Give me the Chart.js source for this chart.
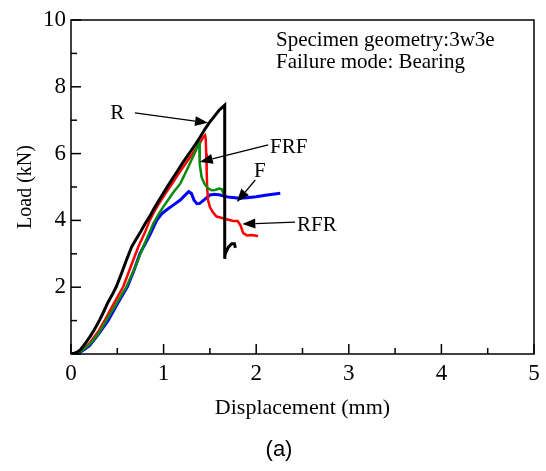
<!DOCTYPE html>
<html>
<head>
<meta charset="utf-8">
<script src="https://cdn.jsdelivr.net/npm/chart.js@4.4.1/dist/chart.umd.min.js"></script>
<style>
  html, body { margin: 0; padding: 0; background: #fff; }
  #wrap { width: 546px; height: 471px; position: relative; }
</style>
</head>
<body>
<div id="wrap"><canvas id="loadChart" width="546" height="471"></canvas></div>
<script>
// Load-displacement curves (x: mm, y: kN)
const rX = [0, 0.05, 0.1, 0.15, 0.2, 0.25, 0.31, 0.35, 0.4, 0.45, 0.49, 0.55, 0.6, 0.655, 0.7, 0.75, 0.8, 0.85, 0.9, 0.95, 1.0, 1.05, 1.1, 1.15, 1.2, 1.25, 1.3, 1.35, 1.4, 1.45, 1.5, 1.55, 1.6, 1.66, 1.66, 1.665, 1.7, 1.735, 1.765, 1.775];
const rY = [0, 0.03, 0.12, 0.3, 0.5, 0.72, 1.02, 1.25, 1.55, 1.8, 2.02, 2.45, 2.82, 3.21, 3.42, 3.65, 3.9, 4.12, 4.37, 4.6, 4.83, 5.05, 5.27, 5.48, 5.7, 5.9, 6.1, 6.3, 6.52, 6.75, 6.95, 7.12, 7.3, 7.45, 2.85, 3.0, 3.2, 3.3, 3.3, 3.18];

const frfX = [0, 0.1, 0.2, 0.3, 0.385, 0.5, 0.6, 0.7, 0.78, 0.85, 0.89, 0.95, 1.0, 1.05, 1.1, 1.18, 1.25, 1.3, 1.35, 1.375, 1.385, 1.39, 1.41, 1.44, 1.48, 1.52, 1.555, 1.6, 1.63, 1.65];
const frfY = [0, 0.07, 0.28, 0.62, 1.02, 1.55, 2.02, 2.65, 3.21, 3.65, 3.91, 4.2, 4.42, 4.62, 4.82, 5.1, 5.5, 5.8, 6.1, 6.3, 6.33, 5.7, 5.3, 5.1, 4.96, 4.9, 4.91, 4.95, 4.93, 4.76];

const rfrX = [0, 0.1, 0.2, 0.3, 0.367, 0.45, 0.565, 0.65, 0.727, 0.8, 0.85, 0.9, 0.95, 1.0, 1.05, 1.1, 1.15, 1.2, 1.25, 1.3, 1.35, 1.4, 1.43, 1.447, 1.455, 1.46, 1.465, 1.47, 1.48, 1.5, 1.53, 1.57, 1.62, 1.7, 1.75, 1.8, 1.83, 1.86, 1.9, 1.95, 2.02];
const rfrY = [0, 0.08, 0.32, 0.7, 1.02, 1.45, 2.02, 2.65, 3.21, 3.65, 4.0, 4.27, 4.5, 4.72, 4.93, 5.13, 5.35, 5.55, 5.75, 5.95, 6.15, 6.35, 6.5, 6.55, 6.45, 6.0, 5.5, 5.0, 4.6, 4.4, 4.25, 4.12, 4.08, 4.02, 3.98, 3.98, 3.85, 3.62, 3.55, 3.56, 3.53];

const fX = [0, 0.1, 0.2, 0.3, 0.4, 0.5, 0.61, 0.68, 0.745, 0.85, 0.925, 0.98, 1.03, 1.1, 1.18, 1.23, 1.27, 1.3, 1.33, 1.36, 1.39, 1.44, 1.5, 1.55, 1.61, 1.66, 1.72, 1.77, 1.825, 1.9, 2.0, 2.1, 2.18, 2.26];
const fY = [0, 0.05, 0.25, 0.6, 1.0, 1.5, 2.02, 2.5, 3.01, 3.55, 4.0, 4.2, 4.31, 4.45, 4.61, 4.75, 4.86, 4.81, 4.6, 4.5, 4.51, 4.62, 4.76, 4.78, 4.76, 4.72, 4.69, 4.68, 4.66, 4.68, 4.71, 4.75, 4.78, 4.81];

const xTicks = [0, 1, 2, 3, 4, 5];
const yTicks = [2, 4, 6, 8, 10];

// arrow labels: text, label pos, arrow tail, arrow tip (data units)
const labels = ['R', 'FRF', 'F', 'RFR'];
const labelPos = [[0.50, 7.19], [2.15, 6.17], [2.04, 5.45], [2.44, 3.86]];
const labelAlign = ['center', 'left', 'center', 'left'];
const arrowFrom = [[0.69, 7.22], [2.13, 6.26], [1.99, 5.21], [2.42, 3.95]];
const arrowTo = [[1.48, 6.92], [1.39, 5.75], [1.79, 4.55], [1.85, 3.89]];

function pts(xs, ys) {
  return xs.map((x, i) => ({ x: x, y: ys[i] }));
}

const SERIF = '"Liberation Serif", "Times New Roman", serif';

const decor = {
  id: 'decor',
  afterDraw(chart) {
    const ctx = chart.ctx;
    const a = chart.chartArea;
    const xs = chart.scales.x, ys = chart.scales.y;
    ctx.save();
    // frame
    ctx.strokeStyle = '#000';
    ctx.lineWidth = 1.5;
    ctx.strokeRect(a.left, a.top, a.right - a.left, a.bottom - a.top);
    // inward ticks, majors on labelled values
    for (let i = 0; i <= 10; i++) {
      const px = xs.getPixelForValue(i / 2);
      const len = i % 2 === 0 ? 10 : 6;
      ctx.beginPath();
      ctx.moveTo(px, a.bottom);
      ctx.lineTo(px, a.bottom - len);
      ctx.stroke();
    }
    for (let v = 0; v <= 10; v += 1) {
      const py = ys.getPixelForValue(v);
      const len = v % 2 === 0 ? 10 : 6;
      ctx.beginPath();
      ctx.moveTo(a.left, py);
      ctx.lineTo(a.left + len, py);
      ctx.stroke();
    }
    // text box
    ctx.fillStyle = '#000';
    ctx.font = '21px ' + SERIF;
    ctx.textBaseline = 'middle';
    ctx.textAlign = 'left';
    ctx.fillText('Specimen geometry:3w3e', 276, 40);
    ctx.fillText('Failure mode: Bearing', 276, 62);
    // axis titles
    ctx.font = '22px ' + SERIF;
    ctx.textAlign = 'center';
    ctx.fillText('Displacement (mm)', (a.left + a.right) / 2, 408);
    ctx.save();
    ctx.font = '20px ' + SERIF;
    ctx.translate(26, (a.top + a.bottom) / 2);
    ctx.rotate(-Math.PI / 2);
    ctx.fillText('Load (kN)', 0, 0);
    ctx.restore();
    ctx.font = '22px "Liberation Sans", Arial, sans-serif';
    ctx.fillText('(a)', 279, 450);
    // arrows with labels
    ctx.font = '21px ' + SERIF;
    labels.forEach((t, i) => {
      ctx.textAlign = labelAlign[i];
      ctx.fillText(t, xs.getPixelForValue(labelPos[i][0]), ys.getPixelForValue(labelPos[i][1]));
      const x1 = xs.getPixelForValue(arrowFrom[i][0]), y1 = ys.getPixelForValue(arrowFrom[i][1]);
      const x2 = xs.getPixelForValue(arrowTo[i][0]), y2 = ys.getPixelForValue(arrowTo[i][1]);
      const ang = Math.atan2(y2 - y1, x2 - x1);
      const hl = 13, hw = 5;
      const bx = x2 - hl * Math.cos(ang), by = y2 - hl * Math.sin(ang);
      ctx.lineWidth = 1.3;
      ctx.beginPath();
      ctx.moveTo(x1, y1);
      ctx.lineTo(bx, by);
      ctx.stroke();
      ctx.beginPath();
      ctx.moveTo(x2, y2);
      ctx.lineTo(bx + hw * Math.sin(ang), by - hw * Math.cos(ang));
      ctx.lineTo(bx - hw * Math.sin(ang), by + hw * Math.cos(ang));
      ctx.closePath();
      ctx.fill();
    });
    ctx.restore();
  }
};

const ctx = document.getElementById('loadChart').getContext('2d');
const loadChart = new Chart(ctx, {
  type: 'scatter',
  data: {
    datasets: [
      { label: 'R', data: pts(rX, rY), borderColor: '#000000', borderWidth: 3 },
      { label: 'FRF', data: pts(frfX, frfY), borderColor: '#0a8a0a', borderWidth: 2.5 },
      { label: 'RFR', data: pts(rfrX, rfrY), borderColor: '#ff0000', borderWidth: 2.5 },
      { label: 'F', data: pts(fX, fY), borderColor: '#0000ff', borderWidth: 3 }
    ]
  },
  options: {
    responsive: false,
    animation: false,
    showLine: true,
    elements: { point: { radius: 0 }, line: { tension: 0 } },
    layout: { padding: { top: 20, right: 12, left: 0, bottom: 0 } },
    plugins: { legend: { display: false }, tooltip: { enabled: false } },
    scales: {
      x: {
        type: 'linear', min: 0, max: 5,
        grid: { display: false, drawTicks: false },
        border: { display: false },
        afterFit(s) { s.height = 117; },
        afterBuildTicks(s) { s.ticks = xTicks.map(v => ({ value: v })); },
        ticks: { color: '#000', padding: 6, maxRotation: 0, autoSkip: false,
                 font: { family: SERIF, size: 23 } }
      },
      y: {
        type: 'linear', min: 0, max: 10,
        grid: { display: false, drawTicks: false },
        border: { display: false },
        afterFit(s) { s.width = 71; },
        afterBuildTicks(s) { s.ticks = yTicks.map(v => ({ value: v })); },
        ticks: { color: '#000', padding: 5, autoSkip: false,
                 font: { family: SERIF, size: 23 } }
      }
    }
  },
  plugins: [decor]
});
</script>
</body>
</html>
